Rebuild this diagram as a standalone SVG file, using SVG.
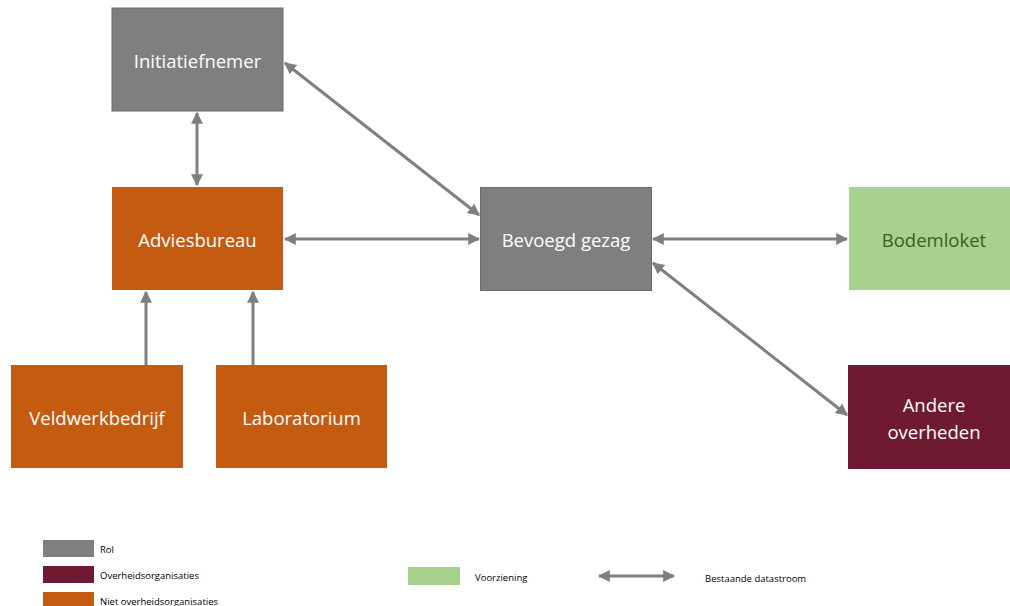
<svg xmlns="http://www.w3.org/2000/svg" width="1010" height="606" viewBox="0 0 1010 606">
  <style>
    .lbl { font-family: "Open Sans", "Liberation Sans", sans-serif; font-size: 18.5px; fill: #ffffff; text-anchor: middle; dominant-baseline: central; }
    .rol { fill: #7f7f7f; stroke: #6a6a6a; stroke-width: 1; }
    .org { fill: #c55a11; }
    .gov { fill: #701a31; }
    .fac { fill: #a9d18e; }
    .con { stroke: #7f7f7f; stroke-width: 3; fill: none; }
    .leg { font-family: "Open Sans", "Liberation Sans", sans-serif; font-size: 9.5px; fill: #000000; dominant-baseline: central; }
  </style>
  <defs>
    <marker id="ah" viewBox="0 0 10 10" refX="9" refY="5" markerWidth="4" markerHeight="4" orient="auto-start-reverse" markerUnits="strokeWidth">
      <path d="M0,0 L10,5 L0,10 z" fill="#7f7f7f"/>
    </marker>
  </defs>
  <rect width="1010" height="606" fill="#ffffff"/>

  <!-- connectors -->
  <g id="connectors">
    <line class="con" x1="197" y1="113" x2="197" y2="185" marker-start="url(#ah)" marker-end="url(#ah)"/>
    <line class="con" x1="285" y1="63" x2="479" y2="215" marker-start="url(#ah)" marker-end="url(#ah)"/>
    <line class="con" x1="285" y1="239" x2="479" y2="239" marker-start="url(#ah)" marker-end="url(#ah)"/>
    <line class="con" x1="653" y1="239" x2="847" y2="239" marker-start="url(#ah)" marker-end="url(#ah)"/>
    <line class="con" x1="653" y1="263" x2="847" y2="415" marker-start="url(#ah)" marker-end="url(#ah)"/>
    <line class="con" x1="146" y1="365" x2="146" y2="292" marker-end="url(#ah)"/>
    <line class="con" x1="253" y1="365" x2="253" y2="292" marker-end="url(#ah)"/>
  </g>

  <!-- nodes -->
  <g id="initiatiefnemer">
    <rect class="rol" x="112" y="8" width="171" height="103" stroke="#8a8a8a"/>
    <text class="lbl" x="197.5" y="60">Initiatiefnemer</text>
  </g>
  <g id="adviesbureau">
    <rect class="org" x="112" y="187" width="171" height="103"/>
    <text class="lbl" x="197.5" y="239">Adviesbureau</text>
  </g>
  <g id="bevoegd-gezag">
    <rect class="rol" x="480.5" y="187.5" width="171" height="103" stroke="#595959"/>
    <text class="lbl" x="566" y="239">Bevoegd gezag</text>
  </g>
  <g id="bodemloket">
    <rect class="fac" x="849" y="187" width="161" height="103"/>
    <text class="lbl" x="934" y="239" style="fill:#385f24">Bodemloket</text>
  </g>
  <g id="veldwerkbedrijf">
    <rect class="org" x="11" y="365" width="172" height="103"/>
    <text class="lbl" x="97" y="417">Veldwerkbedrijf</text>
  </g>
  <g id="laboratorium">
    <rect class="org" x="216" y="365" width="171" height="103"/>
    <text class="lbl" x="301.5" y="417">Laboratorium</text>
  </g>
  <g id="andere-overheden">
    <rect class="gov" x="848" y="365" width="162" height="104"/>
    <text class="lbl" x="934" y="404">Andere</text>
    <text class="lbl" x="934" y="431">overheden</text>
  </g>

  <!-- legend -->
  <g id="legend">
    <rect x="43" y="540" width="51" height="17" fill="#7f7f7f"/>
    <text class="leg" x="100" y="549">Rol</text>
    <rect x="43" y="566" width="51" height="17" fill="#701a31"/>
    <text class="leg" x="100" y="575">Overheidsorganisaties</text>
    <rect x="43" y="592" width="51" height="14" fill="#c55a11"/>
    <text class="leg" x="100" y="601">Niet overheidsorganisaties</text>
    <rect x="408" y="567" width="52" height="18" fill="#a9d18e"/>
    <text class="leg" x="475" y="577">Voorziening</text>
    <line class="con" x1="599" y1="576" x2="674" y2="576" marker-start="url(#ah)" marker-end="url(#ah)"/>
    <text class="leg" x="705" y="578">Bestaande datastroom</text>
  </g>
</svg>
